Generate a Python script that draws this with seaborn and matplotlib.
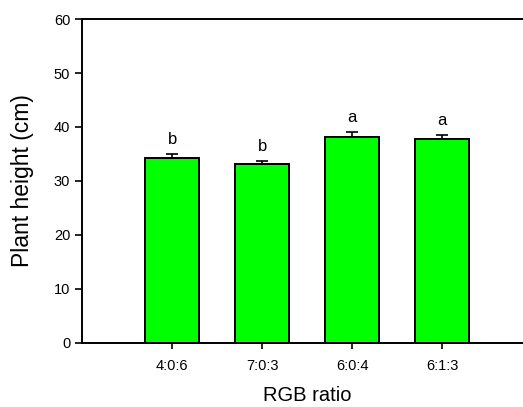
import matplotlib
matplotlib.use("Agg")
import matplotlib.pyplot as plt
import numpy as np
import seaborn as sns

# ── Dados ─────────────────────────────────────────────────────────
rgb_ratio = ["4:0:6", "7:0:3", "6:0:4", "6:1:3"]
plant_height = [34.3, 33.2, 38.2, 37.8]
height_se = [0.6, 0.45, 0.9, 0.7]
letters = ["b", "b", "a", "a"]

sns.set_theme(style="ticks")
plt.rcParams["font.family"] = ["Liberation Sans", "DejaVu Sans"]
plt.rcParams.update({"text.color": "black", "axes.labelcolor": "black",
                     "xtick.color": "black", "ytick.color": "black"})

fig = plt.figure(figsize=(5.23, 4.07), dpi=100)
ax = fig.add_axes([0.157, 0.158, 0.861, 0.795])

sns.barplot(x=rgb_ratio, y=plant_height, color="#00ff00", edgecolor="black",
            linewidth=1.4, width=0.6, saturation=1, ax=ax)
pos = np.arange(len(rgb_ratio))
ax.errorbar(pos, plant_height, yerr=[np.zeros(len(height_se)), height_se],
            fmt="none", ecolor="black", elinewidth=1.2, capsize=4, capthick=1.2)

for x, h, e, lab in zip(pos, plant_height, height_se, letters):
    ax.text(x, h + e + 1.9, lab, ha="center", va="baseline", fontsize=12)

ax.set_xlim(-1, 4)
ax.set_ylim(0, 60)
ax.set_yticks(range(0, 61, 10))
ax.set_xlabel("RGB ratio", fontsize=14.5, labelpad=9)
ax.set_ylabel("Plant height (cm)", fontsize=16.5, labelpad=14)
ax.tick_params(axis="both", direction="out", length=5, width=1.2,
               labelsize=10.5, color="black")
ax.tick_params(axis="x", length=4, pad=8)
for side in ["left", "bottom", "top"]:
    ax.spines[side].set_visible(True)
    ax.spines[side].set_linewidth(1.4)
    ax.spines[side].set_color("black")
ax.spines["right"].set_visible(False)

fig.savefig("out.png", dpi=100)
